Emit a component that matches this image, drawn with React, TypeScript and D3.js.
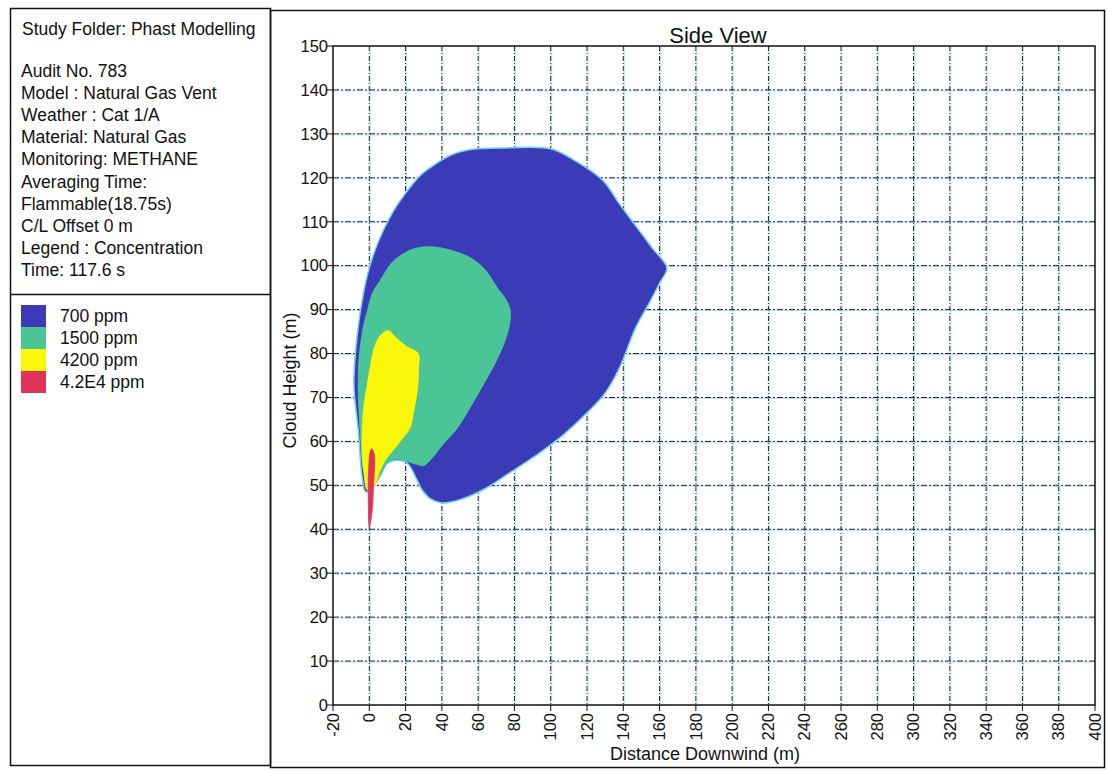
import * as d3 from "d3";

// Side view plume contours, [distance downwind (m), height (m)]
const contour700: [number, number][] = [
  [-2, 48.5], [-4, 52], [-6, 62], [-8.5, 73], [-6.6, 84.5], [-3.3, 93.6], [0, 99.5], [5, 105.5],
  [12, 111.5], [20, 116.5], [28, 120.5], [36, 123], [45, 125.2], [55, 126.4], [75, 126.8],
  [100, 126.6], [115, 123.5], [129, 119.3], [138, 114], [147.7, 108.6], [156, 104], [164, 99.5],
  [160, 96], [155, 92], [147, 86], [138, 76.8], [130, 71], [120, 66.5], [107, 61.5], [92.6, 57],
  [78, 53], [65, 49.5], [52, 47], [41, 46], [33.6, 47], [29, 49], [26.5, 51], [21, 55],
  [15.4, 55.7], [10, 55], [6, 52.7], [2, 49.5],
];

const contour1500: [number, number][] = [
  [0.5, 49], [-3, 53], [-5, 62], [-6, 76.8], [-3.3, 86], [-1, 89.8], [2, 94], [6, 96.6],
  [12, 100.5], [18.7, 102.7], [26, 104], [35, 104.3], [45, 103.5], [55.7, 101.8], [64, 99],
  [70.5, 95], [75, 92.5], [77.7, 89.8], [77, 86], [74, 82], [69, 77.5], [63, 73], [56, 68],
  [48.5, 63], [41, 59.5], [35, 56.4], [30, 54.5], [26, 54.8], [22.6, 55.2], [15.4, 56],
  [10, 55.2], [7.7, 53.4], [4.4, 51],
];

const contour4200: [number, number][] = [
  [-1, 48.9], [-3, 53], [-4, 58], [-3.3, 67], [-1.5, 72], [0.5, 76.8], [3.3, 82], [7, 84.5],
  [10.5, 85.2], [15, 83.5], [21, 81.5], [27, 80], [27.2, 76.8], [26.5, 71.6], [24.5, 67],
  [22.6, 63.2], [17, 60], [11.6, 57.2], [8.5, 55.5], [6, 53.4], [2.2, 49.5],
];

const contour42000: [number, number][] = [
  [0, 40.5], [-0.5, 45], [-0.6, 50.5], [-0.2, 55], [0.4, 57.5], [1.2, 58.3], [2.8, 57],
  [2.6, 52], [2.3, 49.5], [1.6, 44.3],
];

const legendLabels = ["700 ppm", "1500 ppm", "4200 ppm", "4.2E4 ppm"];
const legendColors = ["#3b3bb8", "#4cc596", "#fbf70a", "#e0335a"];

const infoLines = [
  "Audit No. 783",
  "Model : Natural Gas Vent",
  "Weather : Cat 1/A",
  "Material: Natural Gas",
  "Monitoring: METHANE",
  "Averaging Time:",
  "Flammable(18.75s)",
  "C/L Offset 0 m",
  "Legend : Concentration",
  "Time: 117.6 s",
];

const xTickValues = [-20, 0, 20, 40, 60, 80, 100, 120, 140, 160, 180, 200, 220, 240, 260, 280, 300, 320, 340, 360, 380, 400];
const yTickValues = [0, 10, 20, 30, 40, 50, 60, 70, 80, 90, 100, 110, 120, 130, 140, 150];

const font = "'Liberation Sans', Arial, sans-serif";

const App = () => {
  const W = 1107;
  const H = 771;
  const plot = { left: 333, right: 1095, top: 46, bottom: 705 };

  const x = d3.scaleLinear().domain([-20, 400]).range([plot.left, plot.right]);
  const y = d3.scaleLinear().domain([0, 150]).range([plot.bottom, plot.top]);

  const area = d3
    .line<[number, number]>()
    .x((d) => x(d[0]))
    .y((d) => y(d[1]))
    .curve(d3.curveCatmullRomClosed.alpha(0.5));

  const contours = [contour700, contour1500, contour4200, contour42000];

  return (
    <svg
      width={W}
      height={H}
      style={{ position: "absolute", left: 0, top: 0, background: "#fff", fontFamily: font }}
    >
      {/* left info panel */}
      <rect x={10.5} y={8.5} width={260} height={757} fill="none" stroke="#111" strokeWidth={1.5} />
      <line x1={10.5} x2={270.5} y1={294.5} y2={294.5} stroke="#111" strokeWidth={1.5} />
      <text x={22} y={35} fontSize={17.5} fill="#111">Study Folder: Phast Modelling</text>
      {infoLines.map((t, i) => (
        <text key={t} x={21} y={77 + i * 22.1} fontSize={17.5} fill="#111">{t}</text>
      ))}
      {legendLabels.map((t, i) => (
        <g key={t}>
          <rect x={21} y={305 + i * 22} width={25} height={22} fill={legendColors[i]} />
          <text x={60} y={322 + i * 22} fontSize={17.5} fill="#111">{t}</text>
        </g>
      ))}

      {/* right frame */}
      <rect x={270.5} y={10.5} width={834} height={757} fill="none" stroke="#111" strokeWidth={1.5} />

      <text x={718} y={43} fontSize={22} textAnchor="middle" fill="#111">Side View</text>

      {/* grid */}
      {xTickValues.slice(1, -1).map((v) => (
        <g key={"gx" + v}>
          <line x1={x(v) + 1} x2={x(v) + 1} y1={plot.top} y2={plot.bottom} stroke="#8fdcec" strokeOpacity={0.7} strokeWidth={1} />
          <line x1={x(v)} x2={x(v)} y1={plot.top} y2={plot.bottom} stroke="#222" strokeWidth={1} strokeDasharray="5,2,1,2" />
        </g>
      ))}
      {yTickValues.slice(1, -1).map((v) => (
        <g key={"gy" + v}>
          <line x1={plot.left} x2={plot.right} y1={y(v) + 1} y2={y(v) + 1} stroke="#8fdcec" strokeOpacity={0.7} strokeWidth={1} />
          <line x1={plot.left} x2={plot.right} y1={y(v)} y2={y(v)} stroke="#222" strokeWidth={1} strokeDasharray="6,2,2,2" />
        </g>
      ))}

      {/* contours */}
      {contours.map((c, i) => (
        <path
          key={"c" + i}
          d={area(c) ?? ""}
          fill={legendColors[i]}
          stroke={i === 0 ? "#78d4f0" : legendColors[i]}
          strokeWidth={i === 0 ? 1.5 : 0.8}
        />
      ))}

      {/* plot border */}
      <rect
        x={plot.left}
        y={plot.top}
        width={plot.right - plot.left}
        height={plot.bottom - plot.top}
        fill="none"
        stroke="#111"
        strokeWidth={1.5}
      />

      {/* y axis */}
      {yTickValues.map((v) => (
        <g key={"yt" + v}>
          <line x1={plot.left - 6} x2={plot.left} y1={y(v)} y2={y(v)} stroke="#111" />
          <text x={plot.left - 5} y={y(v)} dy="0.35em" fontSize={16.5} textAnchor="end" fill="#111">{v}</text>
        </g>
      ))}
      {/* x axis */}
      {xTickValues.map((v) => (
        <g key={"xt" + v}>
          <line x1={x(v)} x2={x(v)} y1={plot.bottom} y2={plot.bottom + 6} stroke="#111" />
          <text
            transform={`translate(${x(v)},${plot.bottom + 8}) rotate(-90)`}
            dy="0.35em"
            fontSize={16.5}
            textAnchor="end"
            fill="#111"
          >
            {v}
          </text>
        </g>
      ))}

      <text
        transform={`translate(296,${(plot.top + plot.bottom) / 2 + 5})rotate(-90)`}
        fontSize={18}
        textAnchor="middle"
        fill="#111"
      >
        Cloud Height (m)
      </text>
      <text x={705} y={760} fontSize={18} textAnchor="middle" fill="#111">Distance Downwind (m)</text>
    </svg>
  );
};

export default App;
